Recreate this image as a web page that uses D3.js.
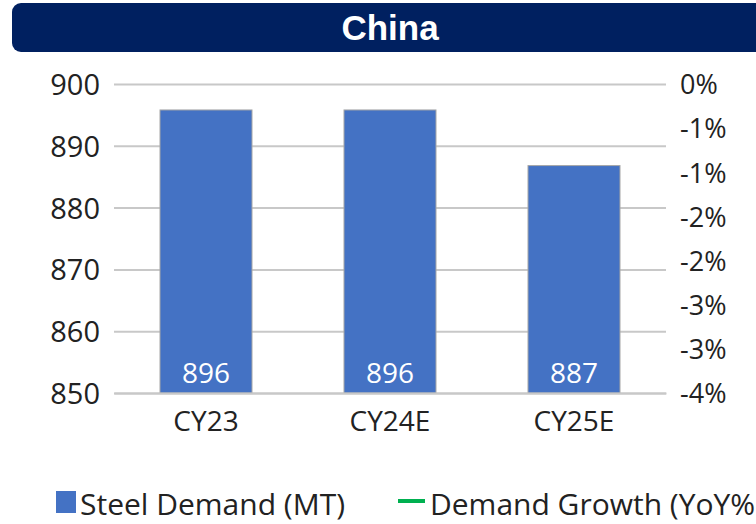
<!DOCTYPE html>
<html>
<head>
<meta charset="utf-8">
<script src="https://cdn.jsdelivr.net/npm/d3@7/dist/d3.min.js"></script>
<style>
  html, body { margin: 0; padding: 0; background: #fff; }
  svg { display: block; }
  text { font-family: "Open Sans", "Noto Sans", sans-serif; }
</style>
</head>
<body>
<svg id="chart" width="756" height="524"></svg>
<script>
// ---- data ----
const title = "China";
const categories = ["CY23", "CY24E", "CY25E"];
const steelDemand = [895.8, 895.8, 886.8];          // MT
const leftTicks = [850, 860, 870, 880, 890, 900];
const rightTicks = [0, -0.005, -0.010, -0.015, -0.020, -0.025, -0.030, -0.035];
const seriesNames = ["Steel Demand (MT)", "Demand Growth (YoY%"];
const seriesColors = ["#4472C4", "#00B050"];

// ---- layout ----
const svg = d3.select("#chart");
const plot = { left: 114, right: 666, top: 84, bottom: 393 };

// title bar
svg.append("rect")
  .attr("x", 12).attr("y", 3).attr("width", 760).attr("height", 49)
  .attr("rx", 9).attr("fill", "#002060");
svg.append("text")
  .attr("x", 390).attr("y", 40)
  .attr("text-anchor", "middle")
  .attr("fill", "#fff")
  .style("font-family", "'Liberation Sans', Arial, sans-serif")
  .style("font-weight", "bold")
  .style("font-size", "35px")
  .text(title);

const x = d3.scaleBand().domain(categories)
  .range([plot.left, plot.right]).paddingInner(0.5).paddingOuter(0.25);
const y = d3.scaleLinear().domain([850, 900]).range([plot.bottom, plot.top]);
const y2 = d3.scaleLinear().domain([-0.035, 0]).range([plot.bottom, plot.top]);

// gridlines
const grid = svg.append("g").attr("transform", `translate(${plot.left},0)`)
  .call(d3.axisLeft(y).tickValues(leftTicks).tickSize(-(plot.right - plot.left)).tickFormat(""));
grid.select(".domain").remove();
grid.selectAll("line").attr("stroke", "#c8c8c8").attr("stroke-width", 2);

// bars
svg.append("g").selectAll("rect").data(steelDemand).join("rect")
  .attr("x", (d, i) => x(categories[i]))
  .attr("y", d => y(d))
  .attr("width", x.bandwidth())
  .attr("height", d => y(850) - y(d))
  .attr("fill", seriesColors[0])
  .attr("stroke", "#a6a6a6").attr("stroke-width", 1);

// bar value labels
svg.append("g").selectAll("text").data(steelDemand).join("text")
  .attr("x", (d, i) => x(categories[i]) + x.bandwidth() / 2)
  .attr("y", plot.bottom - 10)
  .attr("text-anchor", "middle")
  .attr("fill", "#fff")
  .style("font-size", "28px")
  .text(d => d3.format(".0f")(d));

// left axis
const la = svg.append("g").attr("transform", `translate(${plot.left},0)`)
  .call(d3.axisLeft(y).tickValues(leftTicks).tickSize(0).tickPadding(14).tickFormat(d3.format("d")));
la.select(".domain").remove();
la.selectAll("text").style("font-size", "29px").attr("fill", "#222").attr("dy", "0.36em")
  .style("font-family", "'Open Sans', sans-serif");

// right axis
const pctFmt = v => {
  const p = v * 100;
  const r = Math.sign(p) * Math.round(Math.abs(p));
  return (r === 0 ? 0 : r) + "%";
};
const ra = svg.append("g").attr("transform", `translate(${plot.right},0)`)
  .call(d3.axisRight(y2).tickValues(rightTicks).tickSize(0).tickPadding(14).tickFormat(pctFmt));
ra.select(".domain").remove();
ra.selectAll("text").style("font-size", "27px").attr("fill", "#222").attr("dy", "0.36em")
  .style("font-family", "'Open Sans', sans-serif");

// bottom axis
const ba = svg.append("g").attr("transform", `translate(0,${plot.bottom})`)
  .call(d3.axisBottom(x).tickSize(0).tickPadding(18));
ba.select(".domain").attr("stroke", "#c8c8c8").attr("stroke-width", 2);
ba.selectAll("text").style("font-size", "28px").attr("fill", "#222").attr("dy", "0.71em")
  .style("font-family", "'Open Sans', sans-serif");

// legend
const lg = svg.append("g");
lg.append("rect").attr("x", 56).attr("y", 491).attr("width", 20).attr("height", 22)
  .attr("fill", seriesColors[0]);
lg.append("text").attr("x", 80).attr("y", 515).style("font-size", "30px").attr("fill", "#222")
  .text(seriesNames[0]);
lg.append("line").attr("x1", 398).attr("x2", 425).attr("y1", 501).attr("y2", 501)
  .attr("stroke", seriesColors[1]).attr("stroke-width", 4);
lg.append("text").attr("x", 430).attr("y", 515).style("font-size", "30px").attr("fill", "#222")
  .text(seriesNames[1]);
</script>
</body>
</html>
